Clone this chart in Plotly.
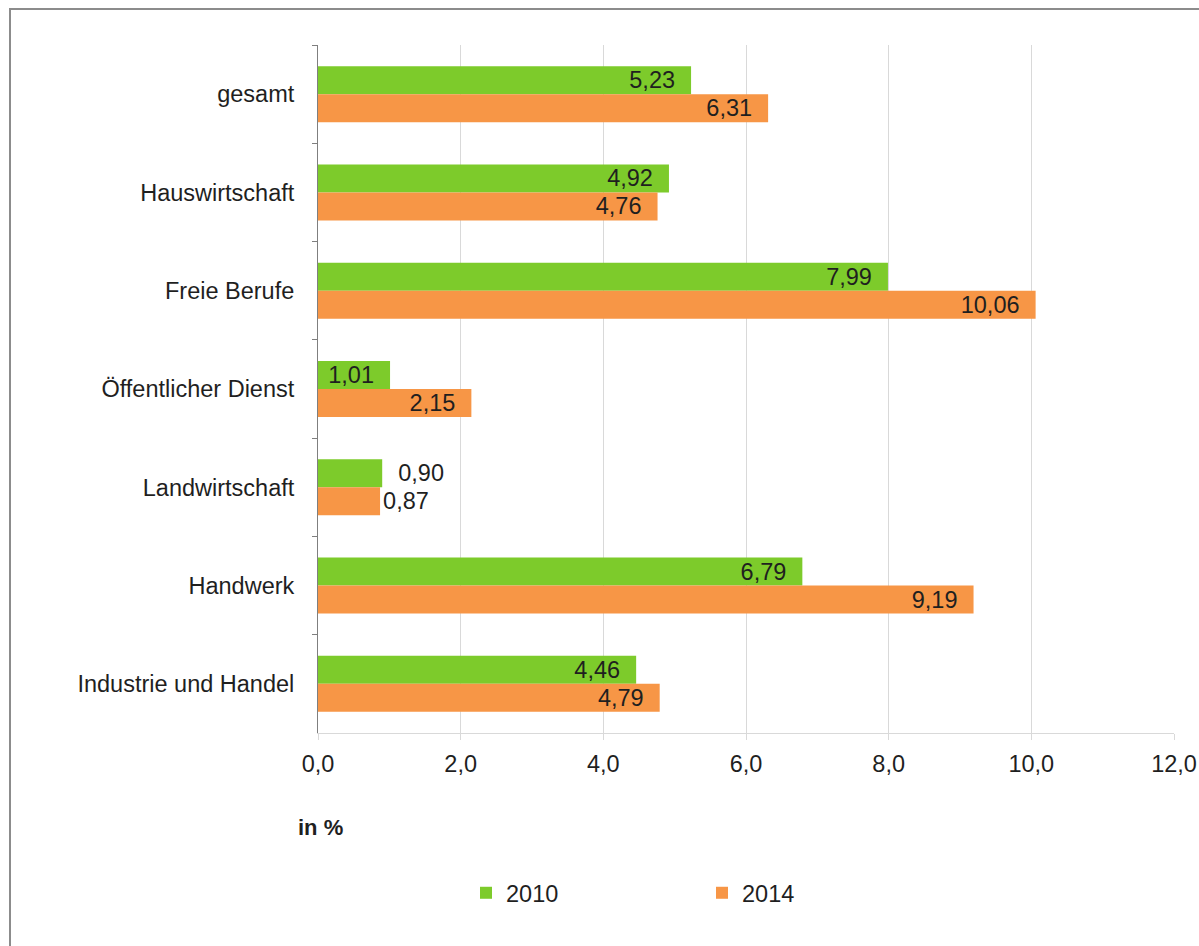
import plotly.graph_objects as go

categories = ["gesamt", "Hauswirtschaft", "Freie Berufe", "Öffentlicher Dienst",
              "Landwirtschaft", "Handwerk", "Industrie und Handel"]
values_2010 = [5.23, 4.92, 7.99, 1.01, 0.90, 6.79, 4.46]
values_2014 = [6.31, 4.76, 10.06, 2.15, 0.87, 9.19, 4.79]
x_ticks = [0, 2, 4, 6, 8, 10, 12]

GREEN = "#7DCB2B"
ORANGE = "#F79646"
FONT = "Liberation Sans, Arial, sans-serif"
FS = 23.5
TXT = "#1f1f1f"

# body margin is removed by post_script, so the figure fills the window
W, H = 1199, 946
L, T = 318, 45
R = W - 1174
B = H - 733
PW, PH = W - L - R, H - T - B


def px_x(px):
    return (px - L) / PW


def px_y(py):
    return (H - B - py) / PH


def positions(vals):
    return ["outside" if v < 1.0 else "inside" for v in vals]


def templates(vals, small_pad):
    nb = "\u00a0"
    out = []
    for v in vals:
        if v < 1.0:
            out.append((nb * small_pad) + "%{x:.2f}")
        else:
            out.append("%{x:.2f}" + nb * 2)
    return out


fig = go.Figure()
fig.add_trace(go.Bar(
    y=categories, x=values_2010, name="2010", orientation="h",
    marker=dict(color=GREEN, line=dict(width=0)),
    texttemplate=templates(values_2010, 2), textposition=positions(values_2010),
    insidetextanchor="end", constraintext="none", cliponaxis=False,
    textfont=dict(family=FONT, size=FS, color=TXT),
    hoverinfo="skip",
))
fig.add_trace(go.Bar(
    y=categories, x=values_2014, name="2014", orientation="h",
    marker=dict(color=ORANGE, line=dict(width=0)),
    texttemplate=templates(values_2014, 0), textposition=positions(values_2014),
    insidetextanchor="end", constraintext="none", cliponaxis=False,
    textfont=dict(family=FONT, size=FS, color=TXT),
    hoverinfo="skip",
))

fig.update_layout(
    width=W, height=H, autosize=False,
    margin=dict(l=L, r=R, t=T, b=B, pad=0, autoexpand=False),
    paper_bgcolor="white", plot_bgcolor="white",
    separators=",.",
    barmode="group", bargap=0.43, bargroupgap=0,
    font=dict(family=FONT, size=FS, color=TXT),
    showlegend=True,
    legend=dict(
        orientation="h", x=px_x(466), xanchor="left",
        y=px_y(893), yanchor="middle",
        entrywidth=191, entrywidthmode="pixels",
        font=dict(family=FONT, size=FS, color=TXT),
        bgcolor="rgba(0,0,0,0)", itemclick=False,
    ),
    xaxis=dict(
        range=[0, 12], tickvals=x_ticks, tickformat=".1f",
        showgrid=True, gridcolor="#d9d9d9", gridwidth=1,
        showline=True, linecolor="#d9d9d9", linewidth=1,
        ticks="outside", ticklen=6, tickcolor="#d9d9d9",
        zeroline=False, fixedrange=True, ticklabelstandoff=4,
        ticklabeloverflow="allow", automargin=False,
        tickfont=dict(family=FONT, size=FS, color=TXT),
    ),
    yaxis=dict(
        type="category", categoryorder="array", categoryarray=categories,
        autorange="reversed",
        showline=True, linecolor="#7f7f7f", linewidth=1,
        ticks="outside", ticklen=5, tickcolor="#7f7f7f",
        tickson="boundaries", showgrid=False, fixedrange=True,
        ticklabelstandoff=18, automargin=False,
        tickfont=dict(family=FONT, size=FS, color=TXT),
    ),
    annotations=[dict(
        text="<b>in %</b>", xref="paper", yref="paper",
        x=px_x(296), y=px_y(828), xanchor="left", yanchor="middle",
        showarrow=False, font=dict(family=FONT, size=22, color=TXT),
    )],
    shapes=[dict(
        type="rect", xref="paper", yref="paper",
        x0=px_x(10), x1=px_x(1215), y0=px_y(960), y1=px_y(9),
        line=dict(color="#8c8c8c", width=2), fillcolor="rgba(0,0,0,0)",
        layer="below",
    )],
)

fig.write_html(
    "out.html",
    config=dict(displayModeBar=False),
    post_script="document.body.style.margin='0';document.body.style.overflow='hidden';",
)
